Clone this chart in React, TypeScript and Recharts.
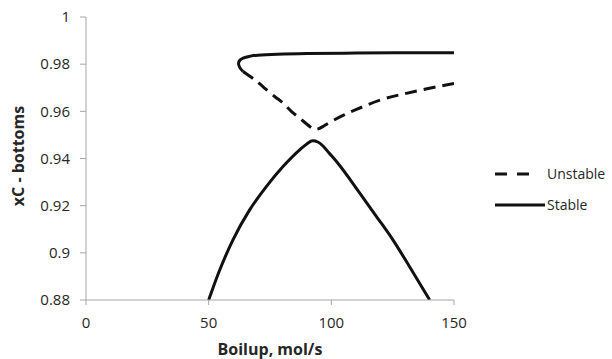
import React from "react";
import { LineChart, Line, XAxis, YAxis, Label } from "recharts";

// ─── Data ─────────────────────────────────────────────────────────────────────

const X_TICKS = [0, 50, 100, 150];
const Y_TICKS = [0.88, 0.9, 0.92, 0.94, 0.96, 0.98, 1];

// upper stable branch, in path order (it turns back near boilup ≈ 62)
const stableUpperX = [64, 62.8, 62.2, 62.5, 64, 67, 70, 78, 90, 110, 130, 150];
const stableUpperY = [0.9769, 0.9784, 0.98, 0.9814, 0.9826, 0.9834, 0.9838, 0.9842, 0.9845, 0.9847, 0.9848, 0.9848];

// lower stable branch (the hump)
const stableLowerX = [50, 54.5, 59.9, 66.7, 73.5, 80.3, 87.1, 90, 92.4, 94.5, 96.6, 99, 102.1, 111.6, 118.4, 125.1, 131.9, 140.1];
const stableLowerY = [0.88, 0.8927, 0.9055, 0.9182, 0.9281, 0.9366, 0.9437, 0.9462, 0.9475, 0.947, 0.9453, 0.9424, 0.9387, 0.9253, 0.9154, 0.9055, 0.8941, 0.88];

// unstable branch
const unstableX = [64, 68.8, 72.1, 76.9, 80.3, 83.7, 87.1, 91.2, 93.9, 96.5, 100, 105, 110, 120, 130, 140, 150];
const unstableY = [0.9769, 0.9734, 0.9705, 0.9663, 0.9635, 0.96, 0.9571, 0.9536, 0.9524, 0.9535, 0.9557, 0.9584, 0.9607, 0.9648, 0.9675, 0.9698, 0.9718];

const toPoints = (xs: number[], ys: number[]) => xs.map((x, i) => ({ x, y: ys[i] }));

// ─── Styles ───────────────────────────────────────────────────────────────────

const FONT = "'Open Sans', sans-serif";
const AXIS = "#a6a6a6";
const TEXT = "#262626";
const INK = "#111";

const LegendBox = () => (
  <svg width={110} height={60} style={{ position: "absolute", left: 495, top: 162 }}>
    <line x1={0} y1={12} x2={38} y2={12} stroke={INK} strokeWidth={3} strokeDasharray="12 10" />
    <text x={52} y={17} fontSize={14} fill={TEXT} fontFamily={FONT}>Unstable</text>
    <line x1={0} y1={43} x2={50} y2={43} stroke={INK} strokeWidth={3} />
    <text x={52} y={48} fontSize={14} fill={TEXT} fontFamily={FONT}>Stable</text>
  </svg>
);

export default function App() {
  return (
    <div style={{ position: "absolute", left: 0, top: 0, width: 612, height: 359, background: "#fff" }}>
      <LineChart width={612} height={359} margin={{ top: 17, right: 158, bottom: 0, left: 0 }}>
        <XAxis
          type="number"
          dataKey="x"
          domain={[0, 150]}
          ticks={X_TICKS}
          allowDataOverflow
          height={59}
          stroke={AXIS}
          tickSize={5}
          tickMargin={12}
          tick={{ fill: TEXT, fontSize: 15, fontFamily: FONT }}
        >
          <Label
            content={() => (
              <text x={270} y={355} textAnchor="middle" fontSize={16} fontWeight={700} fill={TEXT} fontFamily={FONT}>
                Boilup, mol/s
              </text>
            )}
          />
        </XAxis>
        <YAxis
          type="number"
          dataKey="y"
          domain={[0.88, 1]}
          ticks={Y_TICKS}
          allowDataOverflow
          width={86}
          stroke={AXIS}
          tickSize={6}
          tickMargin={10}
          tickFormatter={(v: number) => String(v)}
          tick={{ fill: TEXT, fontSize: 15, fontFamily: FONT }}
        >
          <Label
            content={() => (
              <text
                x={24}
                y={156}
                transform="rotate(-90 24 156)"
                textAnchor="middle"
                fontSize={16}
                fontWeight={700}
                fill={TEXT}
                fontFamily={FONT}
              >
                xC - bottoms
              </text>
            )}
          />
        </YAxis>

        <Line
          data={toPoints(unstableX, unstableY)}
          dataKey="y"
          type="natural"
          stroke={INK}
          strokeWidth={3}
          strokeDasharray="12 7"
          dot={false}
          isAnimationActive={false}
        />
        <Line
          data={toPoints(stableUpperX, stableUpperY)}
          dataKey="y"
          type="natural"
          stroke={INK}
          strokeWidth={3}
          dot={false}
          isAnimationActive={false}
        />
        <Line
          data={toPoints(stableLowerX, stableLowerY)}
          dataKey="y"
          type="monotone"
          stroke={INK}
          strokeWidth={3}
          dot={false}
          isAnimationActive={false}
        />
      </LineChart>
      <LegendBox />
    </div>
  );
}
